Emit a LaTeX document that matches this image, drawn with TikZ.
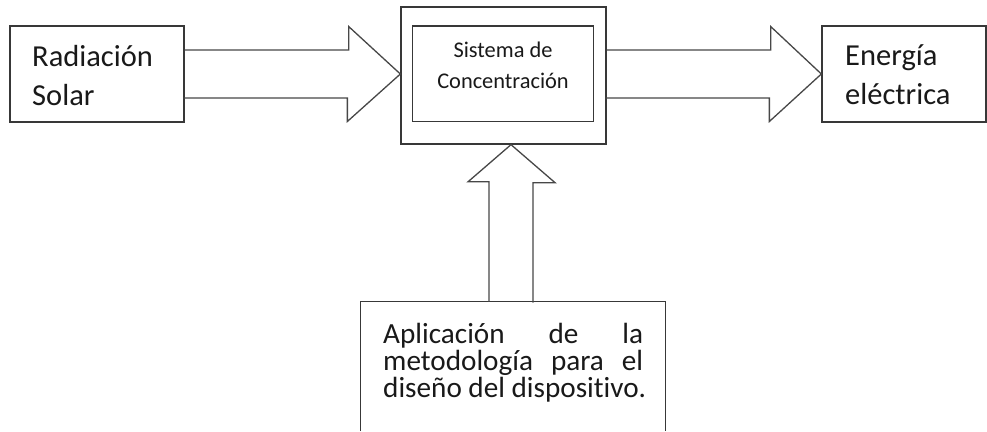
\documentclass[tikz,border=0pt]{standalone}
\usepackage{fontspec}
\setmainfont[Ligatures=NoCommon]{Carlito}
\usetikzlibrary{calc}
\begin{document}
\begin{tikzpicture}[x=1pt,y=-1pt,
  box/.style={draw=black!78, line width=1.3pt, inner sep=0pt},
  blk/.style={draw=black!72, line width=1.3pt, line join=miter},
  txt/.style={text=black!90, inner sep=0pt, anchor=base west},
  bigf/.style={font=\fontsize{30.5}{30.5}\selectfont},
  midf/.style={font=\fontsize{29.2}{29.2}\selectfont},
  smlf/.style={font=\fontsize{22.4}{22.4}\selectfont}]
\useasboundingbox (0,0) rectangle (987,431);
% boxes
\node[box, minimum width=174pt, minimum height=96pt] (rad) at (97,74) {};
\node[box, minimum width=205pt, minimum height=137pt] (outer) at (503.5,75.5) {};
\node[box, minimum width=181pt, minimum height=95.5pt] (inner) at (503.3,73.8) {};
\node[box, minimum width=164pt, minimum height=96pt] (ener) at (904,74) {};
\node[inner sep=0pt, minimum width=304pt, minimum height=129pt] (apl) at (513,366.5) {};
\draw[box] (apl.south west) -- (apl.north west) -- (apl.north east) -- (apl.south east);
% texts
\node[txt, bigf] (t1) at (32,66.7) {Radiación};
\node[txt, bigf] (t2) at (32,105) {Solar};
\node[txt, bigf] (t3) at (845,65.7) {Energía};
\node[txt, bigf] (t4) at (845,104) {eléctrica};
\node[txt, smlf, anchor=base] (s1) at (503,57.7) {Sistema de};
\node[txt, smlf, anchor=base] (s2) at (503,88) {Concentración};
\node[txt, midf] (a1) at (383,343) {\makebox[260pt][s]{Aplicación de la}};
\node[txt, midf] (a2) at (383,370) {\makebox[260pt][s]{metodología para el}};
\node[txt, midf] (a3) at (383,397) {diseño del dispositivo.};
% block arrows
\draw[blk] ($(rad.east)+(0,-24)$) -- ++(164,0) -- ++(0,-23.5)
  -- (outer.west |- rad.east) -- ++(-53,47.5) -- ++(0,-23.5) -- ++(-164,0);
\draw[blk] ($(outer.east |- rad.east)+(0,-24)$) -- ++(164,0) -- ++(0,-23.5)
  -- (ener.west) -- ++(-52,47.5) -- ++(0,-23.5) -- ++(-164,0);
\draw[blk] ($(apl.north)+(-24,0)$) -- ++(0,-120) -- ++(-21,0)
  -- ($(outer.south)+(7.5,0)$) -- ++(44,38) -- ++(-22,0) -- ++(0,120);
\end{tikzpicture}
\end{document}
